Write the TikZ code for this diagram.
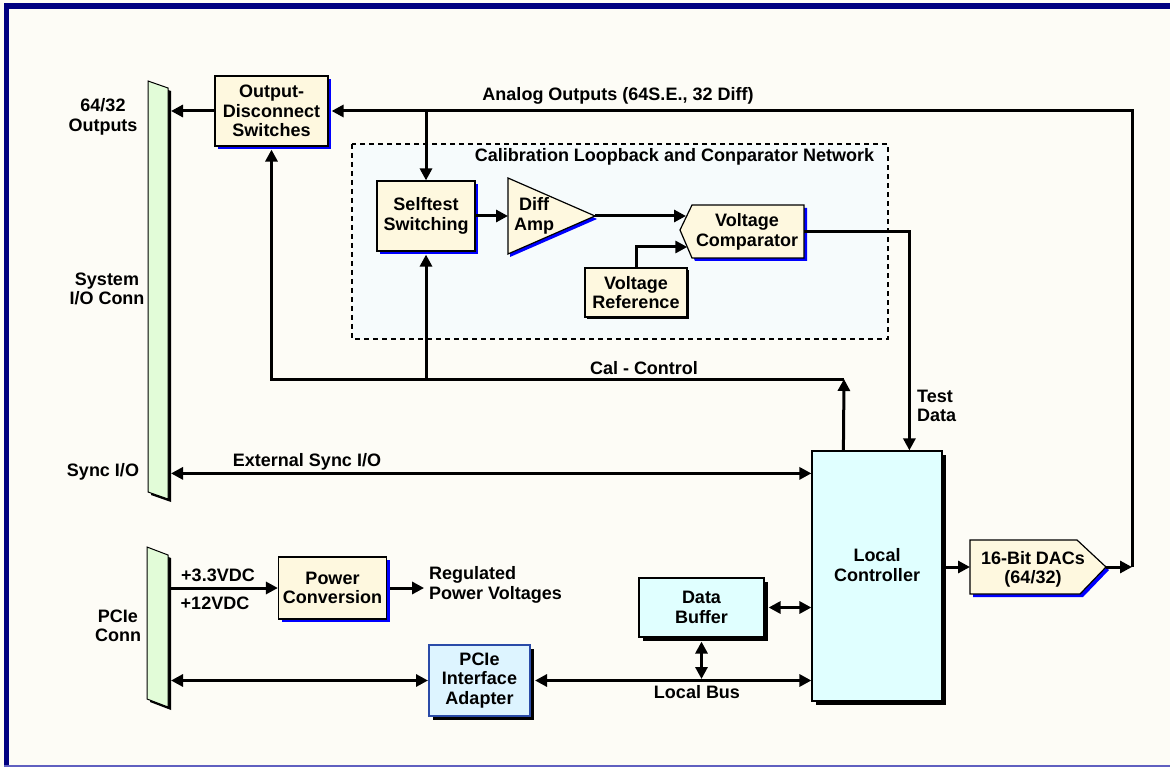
\documentclass[tikz,border=0pt]{standalone}
\usepackage{fontspec}
\setmainfont{Liberation Sans}
\usetikzlibrary{arrows.meta,shadows,calc}
\definecolor{bgc}{HTML}{FDFCF6}
\definecolor{navyb}{HTML}{000080}
\definecolor{creamc}{HTML}{FEF8DF}
\definecolor{cyanc}{HTML}{E0FFFF}
\definecolor{pcic}{HTML}{DDF4FF}
\definecolor{pciborder}{HTML}{2A4BA8}
\definecolor{greenc}{HTML}{E2FCD8}
\definecolor{dashc}{HTML}{F6FBFC}
\definecolor{slateb}{HTML}{6060C0}
\begin{document}
\begin{tikzpicture}[x=1pt,y=-1pt,
  font=\fontsize{18}{19.5}\selectfont\bfseries,
  every node/.style={inner sep=0pt, align=center},
  creambox/.style={draw=black, line width=1.2pt, fill=creamc,
    general shadow={fill=blue, shadow xshift=3pt, shadow yshift=-3pt}},
  plainbox/.style={draw=black, line width=1.2pt, fill=creamc,
    general shadow={fill=black, shadow xshift=2pt, shadow yshift=-2pt}},
  cyanbox/.style={draw=black, line width=1.2pt, fill=cyanc,
    general shadow={fill=black, shadow xshift=4pt, shadow yshift=-4pt}},
  pcibox/.style={draw=pciborder, line width=2pt, fill=pcic,
    general shadow={fill=black, shadow xshift=4pt, shadow yshift=-4pt}},
  shapeline/.style={draw=black, line width=1.2pt, fill=creamc},
  conn/.style={draw=black, line width=1pt, fill=greenc},
  arr/.style={line width=3pt, -{Triangle[length=12pt,width=12pt]}},
  darr/.style={line width=3pt, {Triangle[length=12pt,width=12pt]}-{Triangle[length=12pt,width=12pt]}},
  plain/.style={line width=3pt}
]
\useasboundingbox (0,0) rectangle (1170,767);
\fill[bgc] (0,0) rectangle (1170,767);
% frame
\fill[navyb] (4,3) rectangle (1170,9);
\fill[navyb] (4,3) rectangle (9,767);
\draw[slateb, line width=1.5pt] (4,766.2) -- (1170,766.2);

% dashed calibration region
\draw[fill=dashc, line width=1.5pt, dash pattern=on 5pt off 4pt] (352,144) rectangle (888,339);
\node (caltitle) at (674.5,157) {Calibration Loopback and Conparator Network};

% connectors
\fill[black] (151,84) -- (171,91) -- (171,502) -- (151,495) -- cycle;
\draw[conn] (148,81) -- (168,88) -- (168,499) -- (148,492) -- cycle;
\coordinate (sysio) at (171,291);
\fill[black] (150,550) -- (171,558) -- (171,710) -- (150,702) -- cycle;
\draw[conn] (147,547) -- (168,555) -- (168,707) -- (147,699) -- cycle;
\coordinate (pcieR) at (171,627);

\node (lbl6432) at (103,117) {64/32\\Outputs};
\node (lblsys) at (107,289) {System\\I/O Conn};
\node (lblsync) at (103,472) {Sync I/O};
\node (lblpcie) at (118,626) {PCIe\\Conn};

% boxes
\node[creambox, minimum width=113pt, minimum height=70pt] (ods) at (271.5,111) {Output-\\Disconnect\\Switches};
\node[creambox, minimum width=98pt, minimum height=70pt] (st) at (426,216) {Selftest\\Switching};
\node[plainbox, minimum width=102pt, minimum height=49pt] (vref) at (636,292.5) {Voltage\\Reference};
\node[creambox, minimum width=108pt, minimum height=62pt] (pwr) at (332.5,588) {Power\\Conversion};
\node[cyanbox, minimum width=130pt, minimum height=250pt] (lc) at (877,576) {};
\node (lctext) at ([yshift=11pt]lc.center) {Local\\Controller};
\node[cyanbox, minimum width=125pt, minimum height=59pt] (db) at (701.5,607.5) {Data\\Buffer};
\node[pcibox, minimum width=101pt, minimum height=71pt] (pcie) at (479.5,680.5) {PCIe\\Interface\\Adapter};

% diff amp
\fill[blue] (510,181) -- (597,219) -- (510,257) -- cycle;
\draw[shapeline] (508,178) -- (595,216) -- (508,254) -- cycle;
\coordinate (ampin) at (508,216);
\coordinate (ampout) at (595,216);
\node (amp) at (534,216) {Diff\\Amp};

% comparator
\fill[blue] (683,233) -- (695,208) -- (807,208) -- (807,261) -- (695,261) -- cycle;
\draw[shapeline] (680,230) -- (692,205) -- (804,205) -- (804,258) -- (692,258) -- cycle;
\coordinate (cmpA) at (686,216);
\coordinate (cmpB) at (687.3,247);
\coordinate (cmpE) at (804,232);
\node (cmp) at (747,232) {Voltage\\Comparator};

% DACs
\fill[blue] (973,543) -- (1080,543) -- (1109,570) -- (1083,597) -- (973,597) -- cycle;
\draw[shapeline] (970,540) -- (1077,540) -- (1106,567) -- (1080,594) -- (970,594) -- cycle;
\coordinate (dacin) at (970,567);
\coordinate (dacout) at (1106,567);
\node (dac) at (1033,569.5) {16-Bit DACs\\(64/32)};

% connections
\draw[arr] (ods.west) -- (sysio |- ods.west);
\coordinate (jr) at (1132,567);
\draw[arr] (dacout) -- (jr);
\draw[arr] (jr) |- ([xshift=3pt]ods.east);
\node (lblanalog) at (618,96) {Analog Outputs (64S.E., 32 Diff)};
\draw[arr] (st.north |- ods.east) -- (st.north);
\draw[arr] (st.east) -- (ampin);
\draw[arr] (ampout) -- (cmpA);
\draw[arr] (vref.north) |- (cmpB);
\coordinate (tdtop) at ([xshift=98pt]lc.north west);
\draw[arr] (cmpE) -| (tdtop);
\node[anchor=west, align=left] (lbltest) at (917,406) {Test\\Data};
\coordinate (cctop) at (844,379);
\draw[arr] ([xshift=32pt]lc.north west) -- (cctop);
\draw[arr] (cctop) -| ([yshift=-3pt]ods.south);
\draw[arr] (st.south |- cctop) -- ([yshift=-3pt]st.south);
\node (lblcal) at (644,368) {Cal - Control};
\coordinate (esync) at ([yshift=-23pt]lc.north west);
\draw[darr] (sysio |- esync) -- (esync);
\node (lblsyncio) at (307,462) {External Sync I/O};
\draw[arr] (lc.east |- dacin) -- (dacin);

\draw[arr] (pcieR |- pwr.west) -- (pwr.west);
\node (lbl33) at (218,575) {+3.3VDC};
\node (lbl12) at (215,603) {+12VDC};
\draw[arr] ([xshift=3pt]pwr.east) -- ++(34,0) coordinate (regtip);
\node[anchor=west, align=left] (lblreg) at (429,585) {Regulated\\Power Voltages};
\draw[darr] (pcieR |- pcie.west) -- (pcie.west);
\draw[darr] ([xshift=4pt]pcie.east) -- (lc.west |- pcie.east);
\draw[darr] ([xshift=4pt]db.east) -- (lc.west |- db.east);
\draw[darr, shorten >=1.5pt] ([yshift=-4pt]db.south) -- (db.south |- pcie.east);
\node (lbllocal) at (697,692) {Local Bus};
\end{tikzpicture}
\end{document}
